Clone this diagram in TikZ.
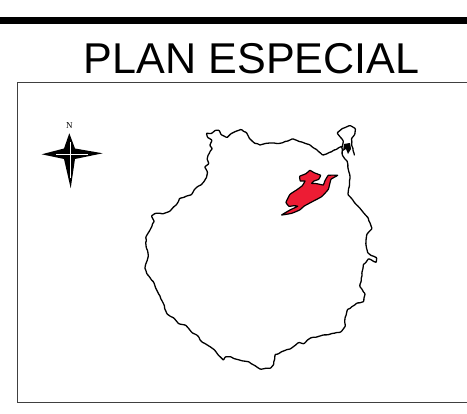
\documentclass[tikz,border=0pt]{standalone}
\usepackage{fontspec}
\usetikzlibrary{decorations.pathmorphing}
\setmainfont{Liberation Sans}
\definecolor{zonered}{HTML}{ED1C34}
\tikzset{
  coast/.style={draw=black,line width=1.3pt,line join=round,line cap=round,rounded corners=0.7pt,decorate,decoration={random steps,segment length=2.6pt,amplitude=0.5pt}},
  zone/.style={draw=black,line width=1.2pt,fill=zonered,line join=round},
  frameline/.style={draw=black!75,line width=0.7pt},
  titletext/.style={font=\fontsize{43.1}{44}\selectfont,anchor=base west,inner sep=0pt,outer sep=0pt},
}
\pgfmathsetseed{4711}
\begin{document}
\begin{tikzpicture}[x=1pt,y=-1pt]
\useasboundingbox (0,0) rectangle (467,414);
\fill[white] (0,0) rectangle (467,414);
\fill[black] (0,17) rectangle (467,24.3);
\node[titletext] (title) at (84,74) {PLAN ESPECIAL};
\draw[frameline] (467,82) -- (17,82) -- (17,402) -- (467,402);
% coast
\draw[coast] plot coordinates {
(260,145)(255,143.3)(250,139)(246.7,133)(241.7,129.7)(236.7,131)(231.7,133.3)(227.3,137.3)(221.7,135)(219.3,130.7)(216,130.3)(211.7,133.3)(206.7,133.3)(207.3,136.7)(211.7,140)(210,145)(212,148.3)(209.3,153.3)(207.3,158.3)(208.7,163.3)(205,166.7)(207.3,171.7)(206.7,176.7)(201.7,184.3)(195,189)(191.7,194.3)(180,198.3)(176.7,204.3)(170,211)(163.3,213.7)(156,213.3)(151.7,215.7)(154,221)(150,230)(146,236.7)(146,245)
(148.3,255)(145,267.7)(146.7,273.3)(153.3,281.7)(158.3,293.3)(163.3,303.3)(166.7,313.3)(173.3,317.7)(178.3,323.3)(185,325)(191.7,332.3)(196.7,335)(201.7,341.7)(210,346.7)(213.3,349)(218.3,355)(223.3,360)(225,357.3)(230,356.7)(241.7,360.7)(248.3,361.7)(255,365.7)(260,369)
(270,368.3)(273.3,365)(275,355)(281.7,351.7)(290,349)(298.3,342.7)(303.3,343.7)(310,338.3)(323.3,335)(340,332.3)(345,326.7)(345,318.3)(347.3,310)(356.7,303.3)(363.3,301.7)(365,294.3)(360,286.7)(363.3,265)(368.3,259)(376,262.3)(376.7,258.3)(368.3,253.3)(366,245)
(366.7,235)(371.7,229)(368.3,218.3)(360,208.3)(348.3,195)(350,178.3)(347.3,161.7)(342.7,155.7)(341.7,146.7)(323.3,155)(310,145)(293.3,139)(280,143.3)(266.7,143.3)(260,145)};
% peninsula
\draw[coast] plot coordinates {(342,147)(343.3,141.7)(337.3,133.3)(341.7,129)(349.3,125.7)(355,128.3)(355,133.3)(351.7,138.3)(351.7,145)(354.3,155)};
\fill[black] (344,144) -- (350,143) -- (351,149) -- (348,154) -- (346,149) -- (343,151) -- cycle;
% red zone
\draw[zone,shift={(275,165)},x=0.3333pt,y=-0.3333pt] plot[smooth cycle,tension=.2] coordinates {
(20,150)(45,135)(68,124)(58,122)(42,124)(33,112)(45,88)(66,74)(82,62)(90,48)(76,48)(74,34)(93,26)(105,16)(117,23)(137,31)(131,43)(117,48)(110,55)(125,56)(145,60)(149,49)(160,31)(188,31)(168,43)(160,73)(140,95)(112,110)(88,123)(74,135)(50,145)};
% compass
\fill[black] (69.3,133.3) -- (75,148.5) -- (102.7,153.3) -- (75,159) -- (70.7,188.3) -- (64,159) -- (41.7,154.3) -- (64,148.5) -- cycle;
\draw[white,line width=0.35pt] (69.8,142) -- (69.8,178);
\draw[white,line width=0.25pt] (56,154) -- (88,154);
\node[font=\fontsize{9}{9}\selectfont,inner sep=0pt] (north) at (69.3,126) {\setmainfont{Liberation Serif}N};
\end{tikzpicture}
\end{document}
